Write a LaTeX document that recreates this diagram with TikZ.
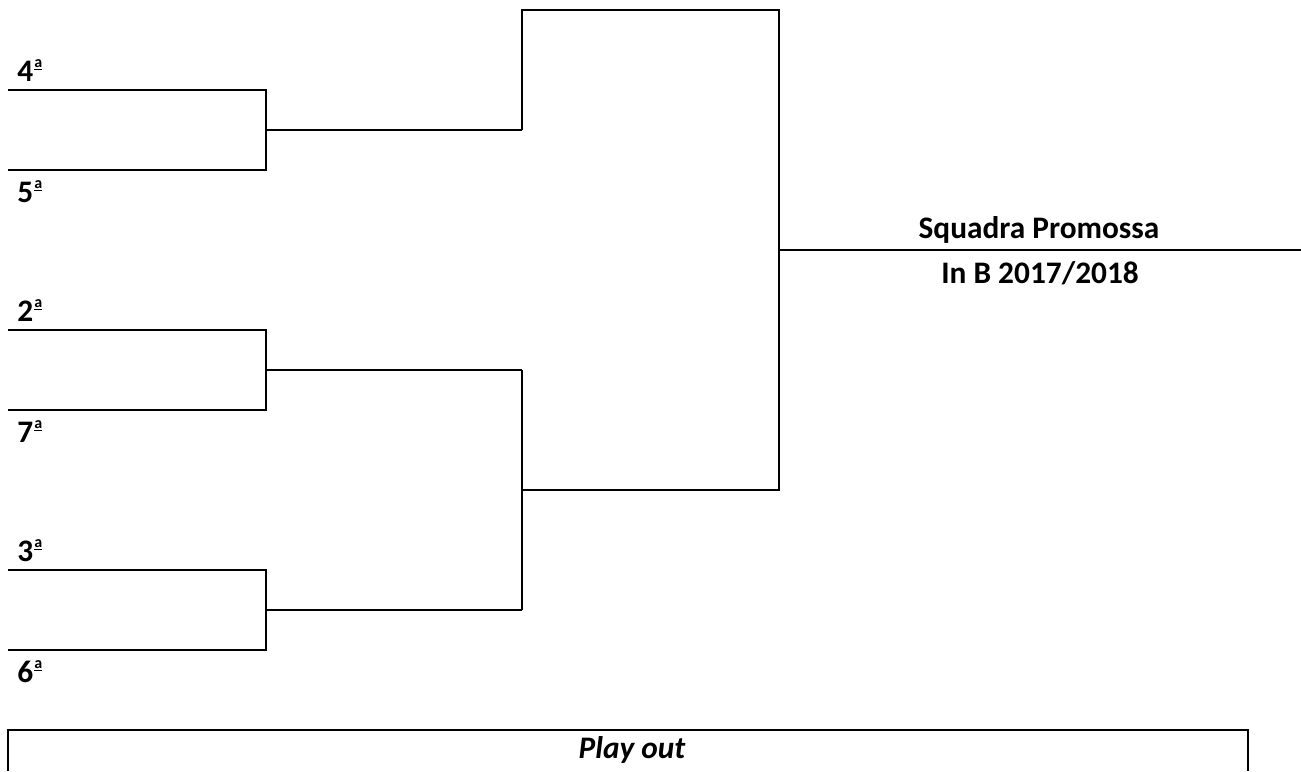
\documentclass[tikz,border=0pt]{standalone}
\usepackage{fontspec}
\setmainfont{Carlito}
\usepackage{tikz}
\usetikzlibrary{positioning, calc}
\newcommand{\ordsup}{\kern1pt\raisebox{7.9pt}{\fontsize{12}{12}\selectfont\setbox0\hbox{a}\rlap{\rule{\wd0}{1.1pt}}\raisebox{2.4pt}{\copy0}}}
\tikzstyle{seed} = [anchor=base west, inner sep=0pt, font=\fontsize{23.5}{28}\selectfont\bfseries]
\tikzstyle{title} = [anchor=base, inner sep=0pt, font=\fontsize{23.5}{28}\selectfont\bfseries]
\tikzstyle{bracket} = [line width=2.2pt, line join=miter]

\begin{document}
\begin{tikzpicture}[x=0.75pt, y=-0.75pt]
    \useasboundingbox (0,0) rectangle (1301,771);

    % Quarter-final lines
    \coordinate (s4) at (8,90);
    \coordinate (s5) at (8,170);
    \coordinate (s2) at (8,330);
    \coordinate (s7) at (8,410);
    \coordinate (s3) at (8,570);
    \coordinate (s6) at (8,650);
    \coordinate (j45) at (266,130);
    \coordinate (j27) at (266,370);
    \coordinate (j36) at (266,610);

    % Semi-final and final joints
    \coordinate (q45) at (522,130);
    \coordinate (q27) at (522,370);
    \coordinate (q36) at (522,610);
    \coordinate (r2) at (522,490);
    \coordinate (ftop) at (779,10);
    \coordinate (fbot) at (779,490);
    \coordinate (win) at (779,250);
    \coordinate (champ) at (1301,250);

    \node[seed] (l4) at (17,81) {4\ordsup};
    \node[seed] (l5) at (17,202) {5\ordsup};
    \node[seed] (l2) at (17,321) {2\ordsup};
    \node[seed] (l7) at (17,442) {7\ordsup};
    \node[seed] (l3) at (17,561) {3\ordsup};
    \node[seed] (l6) at (17,682) {6\ordsup};

    \draw[bracket] (s4) -| (j45) |- (s5);
    \draw[bracket] (s2) -| (j27) |- (s7);
    \draw[bracket] (s3) -| (j36) |- (s6);
    \draw[bracket] (j45) -- (q45);
    \draw[bracket] (j27) -- (q27);
    \draw[bracket] (j36) -- (q36);
    \draw[bracket] (q27) -- (q36);
    \draw[bracket] (q45) |- (ftop) -- (fbot) -- (r2);
    \draw[bracket] (win) -- (champ);

    \node[title] (promo) at (1039,238) {Squadra Promossa};
    \node[title] (serie) at (1040,283) {In B 2017/2018};

    % Play out box
    \coordinate (pl) at (8,771);
    \coordinate (pr) at (1248,771);
    \coordinate (pt) at (1248,730);
    \draw[bracket] (pl) |- (pt) -- (pr);
    \node[title, font=\fontsize{23.5}{28}\selectfont\bfseries\itshape] (playout) at (632,758) {Play out};
\end{tikzpicture}
\end{document}
